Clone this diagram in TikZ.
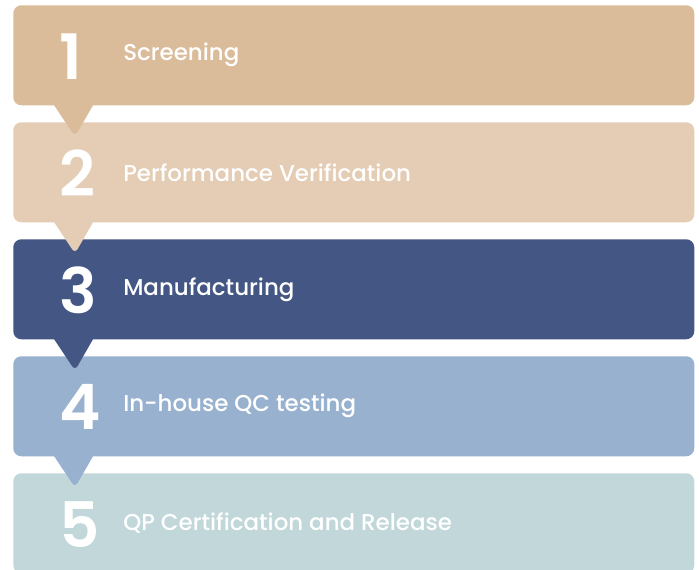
\documentclass[tikz,border=0pt]{standalone}
\usepackage{fontspec}
\setmainfont{Poppins}
\newfontfamily\stepfont{Poppins Medium}
\newfontfamily\numfont{Poppins SemiBold}
\usetikzlibrary{calc}
\definecolor{sand}{HTML}{DBBC9A}
\definecolor{lightsand}{HTML}{E4CDB4}
\definecolor{navy}{HTML}{435684}
\definecolor{skyblue}{HTML}{98B1CF}
\definecolor{mist}{HTML}{C1D7DA}
\begin{document}
\begin{tikzpicture}[x=0.75pt,y=-0.75pt,
  stepbox/.style={anchor=north west,minimum width=510.75pt,minimum height=75pt,
    inner sep=0pt,rounded corners=6pt},
  stepnum/.style={anchor=west,inner sep=0pt,text=white,font=\numfont\fontsize{47}{47}\selectfont},
  steptext/.style={anchor=west,inner sep=0pt,text=white,font=\stepfont\fontsize{17.2}{17.2}\selectfont}]%
\useasboundingbox (0,0) rectangle (699,569);
% boxes
\foreach \i/\c/\t in {1/sand/Screening,2/lightsand/Performance Verification,3/navy/Manufacturing,4/skyblue/In-house QC testing,5/mist/QP Certification and Release}{%
  \node[stepbox,fill=\c] (box\i) at (13,{5+117*(\i-1)}) {};
  \node[stepnum] (num\i) at ($(box\i.west)+(46,1)$) {\i};
  \node[steptext] (lbl\i) at ($(box\i.west)+(110,0)$) {\t};
}
% pointers
\foreach \i/\c in {1/sand,2/lightsand,3/navy,4/skyblue}{%
  \fill[\c] ($(box\i.south west)+(40,-2)$) [rounded corners=4pt] -- ($(box\i.south west)+(62,31)$) [sharp corners] -- ($(box\i.south west)+(81,-2)$) -- cycle;
}
\end{tikzpicture}
\end{document}
